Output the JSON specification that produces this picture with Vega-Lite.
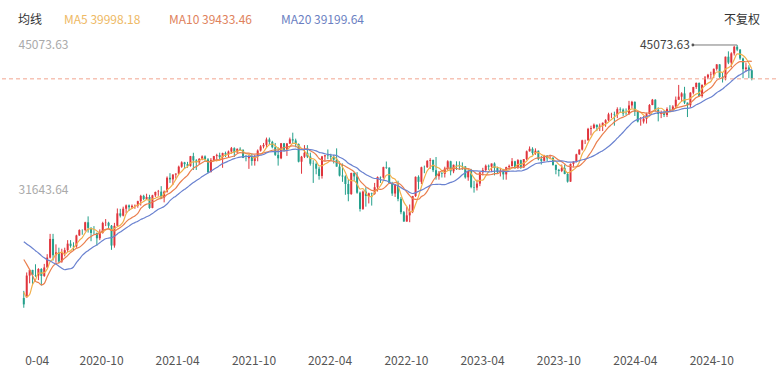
{
"$schema": "https://vega.github.io/schema/vega-lite/v6.json",
"width": 776, "height": 310,
"autosize": {"type": "none"},
"padding": {"left": 0, "right": 0, "top": 30, "bottom": 32},
"background": "#ffffff",
"config": {"view": {"stroke": null}, "font": "Noto Sans CJK SC", "axis": {"grid": false}},
"title": {"text": "不复权", "anchor": "end", "frame": "group", "orient": "top", "offset": -4, "baseline": "middle", "fontSize": 12, "fontWeight": "normal", "color": "#333333", "dx": -16, "dy": 14},
"data": {"values": [
{"d":"2019-11-04","c":27681},{"d":"2019-11-11","c":28005},{"d":"2019-11-18","c":27876},{"d":"2019-11-25","c":28051},{"d":"2019-12-02","c":28015},{"d":"2019-12-09","c":28135},{"d":"2019-12-16","c":28455},{"d":"2019-12-23","c":28645},{"d":"2019-12-30","c":28634},{"d":"2020-01-06","c":28823},{"d":"2020-01-13","c":29348},{"d":"2020-01-20","c":28990},{"d":"2020-01-27","c":28256},{"d":"2020-02-03","c":29103},{"d":"2020-02-10","c":29398},{"d":"2020-02-17","c":28992},{"d":"2020-02-24","c":25409},{"d":"2020-03-02","c":25864},{"d":"2020-03-09","c":23186},{"d":"2020-03-16","c":19174},{"d":"2020-03-23","c":21636},
{"d":"2020-03-30","o":21636,"h":22300,"l":20735,"c":21052},
{"d":"2020-04-06","o":21700,"h":24008,"l":21693,"c":23719},
{"d":"2020-04-13","o":23719,"h":24264,"l":23000,"c":24242},
{"d":"2020-04-20","o":24242,"h":24250,"l":22941,"c":23775},
{"d":"2020-04-27","o":23775,"h":24764,"l":23600,"c":23724},
{"d":"2020-05-04","o":23724,"h":24400,"l":23300,"c":24331},
{"d":"2020-05-11","o":24331,"h":24400,"l":22790,"c":23685},
{"d":"2020-05-18","o":23685,"h":24800,"l":23600,"c":24465},
{"d":"2020-05-25","o":24465,"h":25700,"l":24465,"c":25383},
{"d":"2020-06-01","o":25383,"h":27580,"l":25300,"c":27111},
{"d":"2020-06-08","o":27111,"h":27580,"l":25100,"c":25605},
{"d":"2020-06-15","o":25605,"h":26610,"l":24900,"c":25871},
{"d":"2020-06-22","o":25871,"h":26300,"l":24900,"c":25016},
{"d":"2020-06-29","o":25016,"h":26200,"l":24900,"c":25827},
{"d":"2020-07-06","o":25827,"h":26300,"l":25500,"c":26075},
{"d":"2020-07-13","o":26075,"h":27000,"l":25900,"c":26672},
{"d":"2020-07-20","o":26672,"h":27000,"l":26300,"c":26470},
{"d":"2020-07-27","o":26470,"h":26800,"l":26000,"c":26428},
{"d":"2020-08-03","o":26428,"h":27500,"l":26300,"c":27433},
{"d":"2020-08-10","o":27433,"h":28000,"l":27400,"c":27931},
{"d":"2020-08-17","o":27931,"h":28000,"l":27500,"c":27930},
{"d":"2020-08-24","o":27930,"h":28700,"l":27800,"c":28653},
{"d":"2020-08-31","o":28653,"h":29200,"l":27700,"c":28133},
{"d":"2020-09-07","o":28133,"h":28200,"l":26900,"c":27666},
{"d":"2020-09-14","o":27666,"h":28300,"l":27500,"c":27657},
{"d":"2020-09-21","o":27657,"h":27700,"l":26500,"c":27173},
{"d":"2020-09-28","o":27173,"h":28000,"l":27000,"c":27682},
{"d":"2020-10-05","o":27682,"h":28700,"l":27600,"c":28586},
{"d":"2020-10-12","o":28586,"h":28950,"l":28300,"c":28606},
{"d":"2020-10-19","o":28606,"h":28700,"l":28000,"c":28335},
{"d":"2020-10-26","o":28335,"h":28400,"l":26100,"c":26501},
{"d":"2020-11-02","o":26501,"h":28600,"l":26300,"c":28323},
{"d":"2020-11-09","o":28323,"h":29933,"l":28300,"c":29479},
{"d":"2020-11-16","o":29479,"h":29900,"l":29100,"c":29263},
{"d":"2020-11-23","o":29263,"h":30100,"l":29200,"c":29910},
{"d":"2020-11-30","o":29910,"h":30300,"l":29500,"c":30218},
{"d":"2020-12-07","o":30218,"h":30300,"l":29700,"c":30046},
{"d":"2020-12-14","o":30046,"h":30300,"l":29900,"c":30179},
{"d":"2020-12-21","o":30179,"h":30300,"l":29900,"c":30200},
{"d":"2020-12-28","o":30200,"h":30650,"l":30000,"c":30606},
{"d":"2021-01-04","o":30606,"h":31200,"l":30200,"c":31098},
{"d":"2021-01-11","o":31098,"h":31200,"l":30700,"c":30814},
{"d":"2021-01-18","o":30814,"h":31300,"l":30800,"c":30997},
{"d":"2021-01-25","o":30997,"h":31200,"l":29900,"c":29983},
{"d":"2021-02-01","o":29983,"h":31200,"l":29950,"c":31148},
{"d":"2021-02-08","o":31148,"h":31500,"l":31000,"c":31458},
{"d":"2021-02-15","o":31458,"h":31650,"l":31100,"c":31494},
{"d":"2021-02-22","o":31494,"h":32000,"l":30800,"c":30932},
{"d":"2021-03-01","o":30932,"h":31600,"l":30500,"c":31496},
{"d":"2021-03-08","o":31496,"h":32900,"l":31400,"c":32779},
{"d":"2021-03-15","o":32779,"h":33200,"l":32300,"c":32628},
{"d":"2021-03-22","o":32628,"h":33100,"l":32100,"c":33072},
{"d":"2021-03-29","o":33072,"h":33200,"l":32700,"c":33153},
{"d":"2021-04-05","o":33153,"h":33900,"l":33100,"c":33801},
{"d":"2021-04-12","o":33801,"h":34300,"l":33700,"c":34200},
{"d":"2021-04-19","o":34200,"h":34250,"l":33600,"c":34043},
{"d":"2021-04-26","o":34043,"h":34250,"l":33700,"c":33875},
{"d":"2021-05-03","o":33875,"h":34800,"l":33800,"c":34778},
{"d":"2021-05-10","o":34778,"h":35091,"l":33500,"c":34382},
{"d":"2021-05-17","o":34382,"h":34500,"l":33500,"c":34208},
{"d":"2021-05-24","o":34208,"h":34600,"l":34000,"c":34529},
{"d":"2021-05-31","o":34529,"h":34850,"l":34400,"c":34756},
{"d":"2021-06-07","o":34756,"h":34850,"l":34300,"c":34480},
{"d":"2021-06-14","o":34480,"h":34600,"l":33200,"c":33290},
{"d":"2021-06-21","o":33290,"h":34600,"l":33300,"c":34433},
{"d":"2021-06-28","o":34433,"h":34800,"l":34300,"c":34786},
{"d":"2021-07-05","o":34786,"h":35000,"l":34300,"c":34870},
{"d":"2021-07-12","o":34870,"h":35100,"l":34500,"c":34687},
{"d":"2021-07-19","o":34687,"h":35100,"l":33700,"c":35061},
{"d":"2021-07-26","o":35061,"h":35200,"l":34700,"c":34935},
{"d":"2021-08-02","o":34935,"h":35300,"l":34700,"c":35208},
{"d":"2021-08-09","o":35208,"h":35630,"l":35000,"c":35515},
{"d":"2021-08-16","o":35515,"h":35600,"l":34700,"c":35120},
{"d":"2021-08-23","o":35120,"h":35500,"l":35100,"c":35455},
{"d":"2021-08-30","o":35455,"h":35600,"l":35300,"c":35369},
{"d":"2021-09-06","o":35369,"h":35400,"l":34600,"c":34607},
{"d":"2021-09-13","o":34607,"h":34900,"l":34300,"c":34584},
{"d":"2021-09-20","o":34584,"h":34900,"l":33600,"c":34798},
{"d":"2021-09-27","o":34798,"h":35000,"l":33900,"c":34326},
{"d":"2021-10-04","o":34326,"h":34900,"l":33900,"c":34746},
{"d":"2021-10-11","o":34746,"h":35400,"l":34300,"c":35295},
{"d":"2021-10-18","o":35295,"h":35800,"l":35200,"c":35677},
{"d":"2021-10-25","o":35677,"h":36000,"l":35500,"c":35820},
{"d":"2021-11-01","o":35820,"h":36500,"l":35600,"c":36328},
{"d":"2021-11-08","o":36328,"h":36500,"l":35900,"c":36100},
{"d":"2021-11-15","o":36100,"h":36200,"l":35500,"c":35602},
{"d":"2021-11-22","o":35602,"h":36000,"l":34800,"c":34899},
{"d":"2021-11-29","o":34899,"h":35600,"l":33900,"c":34580},
{"d":"2021-12-06","o":34580,"h":36000,"l":34500,"c":35971},
{"d":"2021-12-13","o":35971,"h":36000,"l":35200,"c":35365},
{"d":"2021-12-20","o":35365,"h":36000,"l":34800,"c":35951},
{"d":"2021-12-27","o":35951,"h":36500,"l":35900,"c":36338},
{"d":"2022-01-03","o":36338,"h":36953,"l":36000,"c":36231},
{"d":"2022-01-10","o":36231,"h":36400,"l":35600,"c":35912},
{"d":"2022-01-17","o":35912,"h":35950,"l":34200,"c":34265},
{"d":"2022-01-24","o":34265,"h":34800,"l":33150,"c":34725},
{"d":"2022-01-31","o":34725,"h":35800,"l":34600,"c":35089},
{"d":"2022-02-07","o":35089,"h":35800,"l":34600,"c":34738},
{"d":"2022-02-14","o":34738,"h":35100,"l":33900,"c":34079},
{"d":"2022-02-21","o":34079,"h":34400,"l":32300,"c":34059},
{"d":"2022-02-28","o":34059,"h":34200,"l":33100,"c":33615},
{"d":"2022-03-07","o":33615,"h":33800,"l":32600,"c":32944},
{"d":"2022-03-14","o":32944,"h":34800,"l":32700,"c":34755},
{"d":"2022-03-21","o":34755,"h":34900,"l":34300,"c":34861},
{"d":"2022-03-28","o":34861,"h":35400,"l":34500,"c":34818},
{"d":"2022-04-04","o":34818,"h":35000,"l":34300,"c":34721},
{"d":"2022-04-11","o":34721,"h":34900,"l":34100,"c":34451},
{"d":"2022-04-18","o":34451,"h":35500,"l":33800,"c":33811},
{"d":"2022-04-25","o":33811,"h":34300,"l":32900,"c":32977},
{"d":"2022-05-02","o":32977,"h":34100,"l":32400,"c":32899},
{"d":"2022-05-09","o":32899,"h":33000,"l":31200,"c":32197},
{"d":"2022-05-16","o":32197,"h":32600,"l":30600,"c":31262},
{"d":"2022-05-23","o":31262,"h":33250,"l":31200,"c":33213},
{"d":"2022-05-30","o":33213,"h":33300,"l":32500,"c":32900},
{"d":"2022-06-06","o":32900,"h":33300,"l":31300,"c":31393},
{"d":"2022-06-13","o":31393,"h":31500,"l":29650,"c":29889},
{"d":"2022-06-20","o":29889,"h":31600,"l":29800,"c":31501},
{"d":"2022-06-27","o":31501,"h":31900,"l":30100,"c":31097},
{"d":"2022-07-04","o":31097,"h":31400,"l":30400,"c":31338},
{"d":"2022-07-11","o":31338,"h":31400,"l":30200,"c":31289},
{"d":"2022-07-18","o":31289,"h":32300,"l":31200,"c":31900},
{"d":"2022-07-25","o":31900,"h":32900,"l":31500,"c":32845},
{"d":"2022-08-01","o":32845,"h":32900,"l":32300,"c":32803},
{"d":"2022-08-08","o":32803,"h":33800,"l":32700,"c":33761},
{"d":"2022-08-15","o":33761,"h":34281,"l":33600,"c":33707},
{"d":"2022-08-22","o":33707,"h":33750,"l":32200,"c":32283},
{"d":"2022-08-29","o":32283,"h":32400,"l":31100,"c":31318},
{"d":"2022-09-05","o":31318,"h":32200,"l":31000,"c":32152},
{"d":"2022-09-12","o":32152,"h":32500,"l":30600,"c":30822},
{"d":"2022-09-19","o":30822,"h":31000,"l":29400,"c":29590},
{"d":"2022-09-26","o":29590,"h":29700,"l":28700,"c":28726},
{"d":"2022-10-03","o":28726,"h":30100,"l":28700,"c":29297},
{"d":"2022-10-10","o":29297,"h":30300,"l":28660,"c":29635},
{"d":"2022-10-17","o":29635,"h":31100,"l":29500,"c":31083},
{"d":"2022-10-24","o":31083,"h":32900,"l":31000,"c":32862},
{"d":"2022-10-31","o":32862,"h":33000,"l":31700,"c":32403},
{"d":"2022-11-07","o":32403,"h":33800,"l":32200,"c":33748},
{"d":"2022-11-14","o":33748,"h":33900,"l":33200,"c":33747},
{"d":"2022-11-21","o":33747,"h":34400,"l":33700,"c":34347},
{"d":"2022-11-28","o":34347,"h":34600,"l":33600,"c":34430},
{"d":"2022-12-05","o":34430,"h":34450,"l":33300,"c":33477},
{"d":"2022-12-12","o":33477,"h":34700,"l":32600,"c":32920},
{"d":"2022-12-19","o":32920,"h":33400,"l":32600,"c":33204},
{"d":"2022-12-26","o":33204,"h":33300,"l":32800,"c":33147},
{"d":"2023-01-02","o":33147,"h":33800,"l":32800,"c":33631},
{"d":"2023-01-09","o":33631,"h":34400,"l":33500,"c":34303},
{"d":"2023-01-16","o":34303,"h":34350,"l":33000,"c":33376},
{"d":"2023-01-23","o":33376,"h":34000,"l":33200,"c":33978},
{"d":"2023-01-30","o":33978,"h":34300,"l":33500,"c":33926},
{"d":"2023-02-06","o":33926,"h":34300,"l":33500,"c":33870},
{"d":"2023-02-13","o":33870,"h":34200,"l":33500,"c":33827},
{"d":"2023-02-20","o":33827,"h":33850,"l":32700,"c":32817},
{"d":"2023-02-27","o":32817,"h":33400,"l":32500,"c":33391},
{"d":"2023-03-06","o":33391,"h":33600,"l":31800,"c":31910},
{"d":"2023-03-13","o":31910,"h":32500,"l":31400,"c":31862},
{"d":"2023-03-20","o":31862,"h":32600,"l":31600,"c":32238},
{"d":"2023-03-27","o":32238,"h":33300,"l":32000,"c":33274},
{"d":"2023-04-03","o":33274,"h":33700,"l":33000,"c":33485},
{"d":"2023-04-10","o":33485,"h":34000,"l":33300,"c":33887},
{"d":"2023-04-17","o":33887,"h":34000,"l":33500,"c":33809},
{"d":"2023-04-24","o":33809,"h":34100,"l":33300,"c":34098},
{"d":"2023-05-01","o":34098,"h":34200,"l":33000,"c":33674},
{"d":"2023-05-08","o":33674,"h":33800,"l":33200,"c":33301},
{"d":"2023-05-15","o":33301,"h":33700,"l":32900,"c":33427},
{"d":"2023-05-22","o":33427,"h":33600,"l":32600,"c":33093},
{"d":"2023-05-29","o":33093,"h":33800,"l":32600,"c":33763},
{"d":"2023-06-05","o":33763,"h":34000,"l":33500,"c":33877},
{"d":"2023-06-12","o":33877,"h":34600,"l":33800,"c":34300},
{"d":"2023-06-19","o":34300,"h":34350,"l":33600,"c":33727},
{"d":"2023-06-26","o":33727,"h":34500,"l":33600,"c":34408},
{"d":"2023-07-03","o":34408,"h":34450,"l":33600,"c":33735},
{"d":"2023-07-10","o":33735,"h":34500,"l":33700,"c":34509},
{"d":"2023-07-17","o":34509,"h":35300,"l":34400,"c":35228},
{"d":"2023-07-24","o":35228,"h":35679,"l":35200,"c":35459},
{"d":"2023-07-31","o":35459,"h":35600,"l":34900,"c":35066},
{"d":"2023-08-07","o":35066,"h":35500,"l":34900,"c":35281},
{"d":"2023-08-14","o":35281,"h":35300,"l":34400,"c":34501},
{"d":"2023-08-21","o":34501,"h":34800,"l":34000,"c":34347},
{"d":"2023-08-28","o":34347,"h":34900,"l":34300,"c":34838},
{"d":"2023-09-04","o":34838,"h":34850,"l":34300,"c":34577},
{"d":"2023-09-11","o":34577,"h":34900,"l":34500,"c":34618},
{"d":"2023-09-18","o":34618,"h":34700,"l":33900,"c":33964},
{"d":"2023-09-25","o":33964,"h":34000,"l":33100,"c":33508},
{"d":"2023-10-02","o":33508,"h":33600,"l":32900,"c":33407},
{"d":"2023-10-09","o":33407,"h":34000,"l":33300,"c":33670},
{"d":"2023-10-16","o":33670,"h":34000,"l":33100,"c":33127},
{"d":"2023-10-23","o":33127,"h":33300,"l":32327,"c":32418},
{"d":"2023-10-30","o":32418,"h":34100,"l":32400,"c":34061},
{"d":"2023-11-06","o":34061,"h":34300,"l":33800,"c":34283},
{"d":"2023-11-13","o":34283,"h":35000,"l":34200,"c":34947},
{"d":"2023-11-20","o":34947,"h":35400,"l":34900,"c":35390},
{"d":"2023-11-27","o":35390,"h":36300,"l":35300,"c":36245},
{"d":"2023-12-04","o":36245,"h":36300,"l":35900,"c":36247},
{"d":"2023-12-11","o":36247,"h":37400,"l":36200,"c":37306},
{"d":"2023-12-18","o":37306,"h":37600,"l":36700,"c":37385},
{"d":"2023-12-25","o":37385,"h":37800,"l":37300,"c":37690},
{"d":"2024-01-01","o":37690,"h":37700,"l":37100,"c":37466},
{"d":"2024-01-08","o":37466,"h":37800,"l":37100,"c":37593},
{"d":"2024-01-15","o":37593,"h":37900,"l":37100,"c":37864},
{"d":"2024-01-22","o":37864,"h":38200,"l":37500,"c":38109},
{"d":"2024-01-29","o":38109,"h":38800,"l":38000,"c":38654},
{"d":"2024-02-05","o":38654,"h":38800,"l":38300,"c":38671},
{"d":"2024-02-12","o":38671,"h":38900,"l":37600,"c":38628},
{"d":"2024-02-19","o":38628,"h":39300,"l":38300,"c":39131},
{"d":"2024-02-26","o":39131,"h":39300,"l":38800,"c":39087},
{"d":"2024-03-04","o":39087,"h":39200,"l":38500,"c":38723},
{"d":"2024-03-11","o":38723,"h":39200,"l":38600,"c":38715},
{"d":"2024-03-18","o":38715,"h":39900,"l":38600,"c":39476},
{"d":"2024-03-25","o":39476,"h":39900,"l":39200,"c":39807},
{"d":"2024-04-01","o":39807,"h":39850,"l":38500,"c":38904},
{"d":"2024-04-08","o":38904,"h":39000,"l":37900,"c":37983},
{"d":"2024-04-15","o":37983,"h":38400,"l":37600,"c":37987},
{"d":"2024-04-22","o":37987,"h":38500,"l":37800,"c":38240},
{"d":"2024-04-29","o":38240,"h":38800,"l":37800,"c":38676},
{"d":"2024-05-06","o":38676,"h":39600,"l":38650,"c":39513},
{"d":"2024-05-13","o":39513,"h":40077,"l":39500,"c":40004},
{"d":"2024-05-20","o":40004,"h":40050,"l":38900,"c":39070},
{"d":"2024-05-27","o":39070,"h":39300,"l":38000,"c":38686},
{"d":"2024-06-03","o":38686,"h":39000,"l":38300,"c":38799},
{"d":"2024-06-10","o":38799,"h":39000,"l":38400,"c":38589},
{"d":"2024-06-17","o":38589,"h":39300,"l":38400,"c":39150},
{"d":"2024-06-24","o":39150,"h":39500,"l":38900,"c":39119},
{"d":"2024-07-01","o":39119,"h":39500,"l":38900,"c":39376},
{"d":"2024-07-08","o":39376,"h":40300,"l":39200,"c":40001},
{"d":"2024-07-15","o":40001,"h":41376,"l":40000,"c":40288},
{"d":"2024-07-22","o":40288,"h":40700,"l":39800,"c":40590},
{"d":"2024-07-29","o":40590,"h":41200,"l":39600,"c":39737},
{"d":"2024-08-05","o":39737,"h":39750,"l":38400,"c":39498},
{"d":"2024-08-12","o":39498,"h":40700,"l":39300,"c":40660},
{"d":"2024-08-19","o":40660,"h":41200,"l":40500,"c":41175},
{"d":"2024-08-26","o":41175,"h":41600,"l":41000,"c":41563},
{"d":"2024-09-02","o":41563,"h":41600,"l":40300,"c":40345},
{"d":"2024-09-09","o":40345,"h":41400,"l":40200,"c":41394},
{"d":"2024-09-16","o":41394,"h":42200,"l":41350,"c":42063},
{"d":"2024-09-23","o":42063,"h":42400,"l":41900,"c":42313},
{"d":"2024-09-30","o":42313,"h":42600,"l":41900,"c":42352},
{"d":"2024-10-07","o":42352,"h":42900,"l":42000,"c":42864},
{"d":"2024-10-14","o":42864,"h":43300,"l":42700,"c":43276},
{"d":"2024-10-21","o":43276,"h":43300,"l":42000,"c":42114},
{"d":"2024-10-28","o":42114,"h":42500,"l":41600,"c":42052},
{"d":"2024-11-04","o":42052,"h":44000,"l":41800,"c":43989},
{"d":"2024-11-11","o":43989,"h":44486,"l":43300,"c":43445},
{"d":"2024-11-18","o":43445,"h":44400,"l":43000,"c":44297},
{"d":"2024-11-25","o":44297,"h":45000,"l":44100,"c":44911},
{"d":"2024-12-02","o":44911,"h":45073.63,"l":44500,"c":44643},
{"d":"2024-12-09","o":44643,"h":44700,"l":43700,"c":43828},
{"d":"2024-12-16","o":43828,"h":43900,"l":42000,"c":42840},
{"d":"2024-12-23","o":42840,"h":43400,"l":42600,"c":42992},
{"d":"2024-12-30","o":42992,"h":43200,"l":42000,"c":42732},
{"d":"2025-01-06","o":42732,"h":42800,"l":41800,"c":41938}
]},
"transform": [
{"window": [{"op": "mean", "field": "c", "as": "ma5"}], "frame": [-4, 0], "sort": [{"field": "d"}]},
{"window": [{"op": "mean", "field": "c", "as": "ma10"}], "frame": [-9, 0], "sort": [{"field": "d"}]},
{"window": [{"op": "mean", "field": "c", "as": "ma20"}], "frame": [-19, 0], "sort": [{"field": "d"}]}
],
"encoding": {
"x": {"field": "d", "type": "temporal",
 "scale": {"type": "utc", "domain": [{"year": 2020, "month": 2, "date": 14, "utc": true}, {"year": 2025, "month": 2, "date": 21, "utc": true}]},
 "axis": {"values": [
  {"year": 2020, "month": 4, "date": 1, "utc": true},
  {"year": 2020, "month": 10, "date": 1, "utc": true},
  {"year": 2021, "month": 4, "date": 1, "utc": true},
  {"year": 2021, "month": 10, "date": 1, "utc": true},
  {"year": 2022, "month": 4, "date": 1, "utc": true},
  {"year": 2022, "month": 10, "date": 1, "utc": true},
  {"year": 2023, "month": 4, "date": 1, "utc": true},
  {"year": 2023, "month": 10, "date": 1, "utc": true},
  {"year": 2024, "month": 4, "date": 1, "utc": true},
  {"year": 2024, "month": 10, "date": 1, "utc": true}],
  "format": "%Y-%m",
  "labelExpr": "datum.label == '2020-04' ? '0-04' : datum.label",
  "labelAlign": {"condition": {"test": "datum.label == '2020-04'", "value": "left"}, "value": "center"},
  "labelColor": "#555555", "labelFontSize": 12, "ticks": false, "domain": false, "grid": false,
  "labelPadding": 15, "labelFlush": false, "labelOverlap": false, "labelBound": false, "title": null}}
},
"layer": [
{"transform": [{"filter": {"field": "o", "valid": true}}],
 "mark": {"type": "rule", "strokeWidth": 1},
 "encoding": {
  "y": {"field": "l", "type": "quantitative", "title": null,
   "scale": {"domain": [17750.55, 46462.93], "nice": false, "zero": false},
   "axis": {"values": [45073.63, 31643.64], "format": ".2f", "orient": "left", "labelAlign": "left", "labelPadding": -18, "tickSize": 0, "ticks": false, "domain": false, "grid": false, "labelColor": "#aaaaaa", "labelFontSize": 12, "labelBaseline": "middle", "title": null}},
  "y2": {"field": "h"},
  "color": {"condition": {"test": "datum.c >= datum.o", "value": "#e0343c"}, "value": "#25a08c"}
 }},
{"transform": [{"filter": {"field": "o", "valid": true}}],
 "mark": {"type": "bar", "width": 2},
 "encoding": {
  "y": {"field": "o", "type": "quantitative", "title": null},
  "y2": {"field": "c"},
  "color": {"condition": {"test": "datum.c >= datum.o", "value": "#e0343c"}, "value": "#25a08c"}
 }},
{"transform": [{"filter": {"field": "o", "valid": true}}, {"fold": ["ma5", "ma10", "ma20"], "as": ["series", "value"]}],
 "mark": {"type": "line", "strokeWidth": 1.2, "interpolate": "monotone"},
 "encoding": {
  "y": {"field": "value", "type": "quantitative", "title": null},
  "color": {"field": "series", "type": "nominal",
   "scale": {"domain": ["ma5", "ma10", "ma20"], "range": ["#f2b04a", "#ea7f4e", "#6a82d0"]},
   "legend": {"orient": "none", "legendX": 18, "legendY": -16, "direction": "horizontal",
    "title": "均线", "titleOrient": "left", "titleFontSize": 12, "titleFontWeight": "normal", "titleColor": "#333333", "titlePadding": 9,
    "labelFontSize": 12, "labelOffset": 0, "columnPadding": 16,
    "labelExpr": "datum.value == 'ma5' ? 'MA5 39998.18' : datum.value == 'ma10' ? 'MA10 39433.46' : 'MA20 39199.64'",
    "labelColor": {"expr": "datum.value == 'ma5' ? '#eeb964' : datum.value == 'ma10' ? '#e0825c' : '#6b7fc2'"},
    "symbolSize": 0, "symbolOpacity": 0, "symbolStrokeWidth": 0}}
 }},
{"data": {"values": [{"price": 41938}]},
 "mark": {"type": "rule", "strokeDash": [4, 3], "color": "#f2a48f", "strokeWidth": 1},
 "encoding": {"x": null, "y": {"field": "price", "type": "quantitative", "title": null}}},
{"data": {"values": [{"d": "2024-08-18", "d2": "2024-12-02", "v": 45073.63, "label": "45073.63"}]},
 "layer": [
  {"mark": {"type": "rule", "color": "#7a7a7a", "strokeWidth": 1},
   "encoding": {"x2": {"field": "d2"}, "y": {"field": "v", "type": "quantitative", "title": null}}},
  {"mark": {"type": "point", "filled": true, "size": 8, "color": "#555555", "opacity": 1},
   "encoding": {"y": {"field": "v", "type": "quantitative", "title": null}}},
  {"mark": {"type": "text", "align": "right", "dx": -3, "baseline": "middle", "fontSize": 12, "color": "#444444"},
   "encoding": {"y": {"field": "v", "type": "quantitative", "title": null}, "text": {"field": "label"}}}
 ]}
]
}
